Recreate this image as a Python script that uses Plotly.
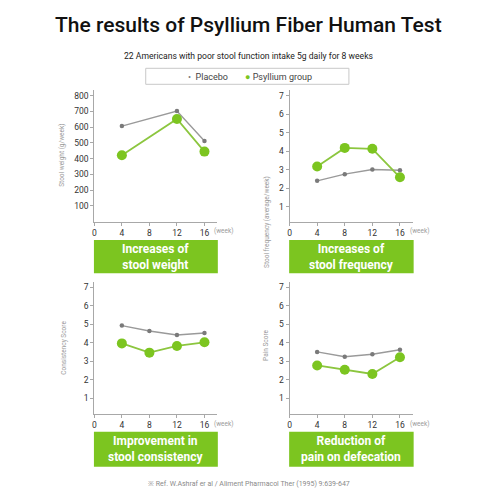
import plotly.graph_objects as go

# ---- data ----
weeks_weight = [4, 12, 16]
placebo_weight = [607, 702, 512]
psyllium_weight = [422, 652, 445]

weeks = [4, 8, 12, 16]
placebo_freq = [2.40, 2.76, 3.01, 2.97]
psyllium_freq = [3.17, 4.18, 4.13, 2.59]

placebo_cons = [4.92, 4.63, 4.41, 4.52]
psyllium_cons = [3.96, 3.46, 3.82, 4.02]

placebo_pain = [3.50, 3.24, 3.37, 3.62]
psyllium_pain = [2.77, 2.54, 2.31, 3.21]

x_ticks = [0, 4, 8, 12, 16]
y_ticks_weight = [100, 200, 300, 400, 500, 600, 700, 800]
y_ticks_score = [1, 2, 3, 4, 5, 6, 7]

y_titles = ["Stool weight (g/week)", "Stool frequency (average/week)",
            "Consistency Score", "Pain Score"]
box_labels = ["Increases of<br>stool weight", "Increases of<br>stool frequency",
              "Improvement in<br>stool consistency", "Reduction of<br>pain on defecation"]

series_names = ["Placebo", "Psyllium group"]

GREEN = "#7cc520"
GREEN_LINE = "#8cc63f"
GRAY_LINE = "#9a9a9a"
GRAY_MARK = "#7a7a7a"
AXIS = "#a8a8a8"
FONT = "Roboto"

W = 500
def px(x): return x / W
def py(y): return 1 - y / W

def ann(text, x, y, size, color, xanchor="center", yanchor="middle", **kw):
    return dict(text=text, x=px(x), y=py(y), xref="paper", yref="paper", showarrow=False,
                xanchor=xanchor, yanchor=yanchor,
                font=dict(family=kw.pop("family", FONT), size=size, color=color,
                          weight=kw.pop("weight", "normal")), **kw)

fig = go.Figure()

panels = [
    (weeks_weight, placebo_weight, psyllium_weight),
    (weeks, placebo_freq, psyllium_freq),
    (weeks, placebo_cons, psyllium_cons),
    (weeks, placebo_pain, psyllium_pain),
]

for i, (wx, pl, ps) in enumerate(panels):
    xa = "x" if i == 0 else f"x{i+1}"
    ya = "y" if i == 0 else f"y{i+1}"
    fig.add_trace(go.Scatter(x=wx, y=pl, name=series_names[0], mode="lines+markers",
                             line=dict(color=GRAY_LINE, width=1.4),
                             marker=dict(color=GRAY_MARK, size=4.5),
                             xaxis=xa, yaxis=ya, showlegend=False))
    fig.add_trace(go.Scatter(x=wx, y=ps, name=series_names[1], mode="lines+markers",
                             line=dict(color=GREEN_LINE, width=1.8),
                             marker=dict(color=GREEN, size=10),
                             xaxis=xa, yaxis=ya, showlegend=False))

# geometry (pixels)
x_left = [92.7, 288.7, 92.7, 288.7]
x_right = [216, 412.3, 216, 412.3]
y_top = [90, 90, 282.3, 282.3]
y_bot = [221.7, 221.7, 414, 414]
y_ranges = [[0, 836], [0.19, 7.31], [0.146, 7.26], [0.146, 7.26]]

tickfont = dict(family=FONT, size=8.5, color="#333333")
layout = {}
for i in range(4):
    xk = "xaxis" if i == 0 else f"xaxis{i+1}"
    yk = "yaxis" if i == 0 else f"yaxis{i+1}"
    ya = "y" if i == 0 else f"y{i+1}"
    xa = "x" if i == 0 else f"x{i+1}"
    layout[xk] = dict(domain=[px(x_left[i]), px(x_right[i])], range=[0, 17.84],
                      anchor=ya, tickvals=x_ticks, showline=True, linecolor=AXIS,
                      linewidth=1, ticks="outside", ticklen=3, tickcolor=AXIS,
                      showgrid=False, zeroline=False, tickfont=tickfont, fixedrange=True)
    layout[yk] = dict(domain=[py(y_bot[i]), py(y_top[i])], range=y_ranges[i],
                      anchor=xa, tickvals=y_ticks_weight if i == 0 else y_ticks_score,
                      showline=True, linecolor=AXIS, linewidth=1, ticks="outside",
                      ticklen=3, tickcolor=AXIS, showgrid=False, zeroline=False,
                      tickfont=tickfont, fixedrange=True)

fig.update_layout(**layout)

annotations = []
shapes = []

# title & subtitle
annotations.append(ann("The results of Psyllium Fiber Human Test", 247, 25, 21, "#111111",
                       weight=500))
annotations.append(ann("22 Americans with poor stool function intake 5g daily for 8 weeks",
                       247, 56, 8.6, "#222222"))

# legend box
shapes.append(dict(type="rect", xref="paper", yref="paper", x0=px(144.3), x1=px(348.3),
                   y0=py(84.3), y1=py(68.3), line=dict(color="#c8c8c8", width=1),
                   fillcolor="white", layer="below"))
annotations.append(ann(f"<span style='color:{GRAY_MARK}'>•</span>  {series_names[0]}",
                       184.5, 76.5, 9, "#444444", xanchor="left"))
annotations.append(ann(f"<span style='color:{GREEN}'>●</span> {series_names[1]}",
                       241.5, 76.5, 9, "#444444", xanchor="left"))

# axis titles
ytitle_x = [60, 266, 62, 265]
ytitle_y = [155, 222, 348, 345]
week_x = [210.7, 408, 210.7, 407.3]
for i in range(4):
    annotations.append(ann(y_titles[i], ytitle_x[i], ytitle_y[i], 6.5, "#9a9a9a",
                           textangle=-90))
    annotations.append(ann("(week)", week_x[i], y_bot[i] + 9.5, 6.5, "#9a9a9a",
                           xanchor="left"))

# green label boxes
box_x = [(92.3, 216.7), (288.3, 413.3), (92.3, 216.7), (288.3, 413.3)]
box_y = [(240, 273.3), (240, 273.3), (431.7, 466.7), (431.7, 466.7)]
for i in range(4):
    x0, x1 = box_x[i]
    y0, y1 = box_y[i]
    shapes.append(dict(type="rect", xref="paper", yref="paper", x0=px(x0), x1=px(x1),
                       y0=py(y1), y1=py(y0), line=dict(width=0), fillcolor=GREEN))
    annotations.append(ann(box_labels[i], (x0 + x1) / 2, (y0 + y1) / 2, 12, "white",
                           weight="bold"))

# footer
annotations.append(ann("※ Ref. W.Ashraf er al / Aliment Pharmacol Ther (1995) 9:639-647",
                       248, 484, 7, "#8a8a8a"))

fig.update_layout(width=500, height=500, margin=dict(l=0, r=0, t=0, b=0),
                  paper_bgcolor="white", plot_bgcolor="white",
                  annotations=annotations, shapes=shapes, showlegend=False)

fig.write_html("out.html", config={"displayModeBar": False},
               post_script="document.body.style.margin='0';document.body.style.overflow='hidden';")
